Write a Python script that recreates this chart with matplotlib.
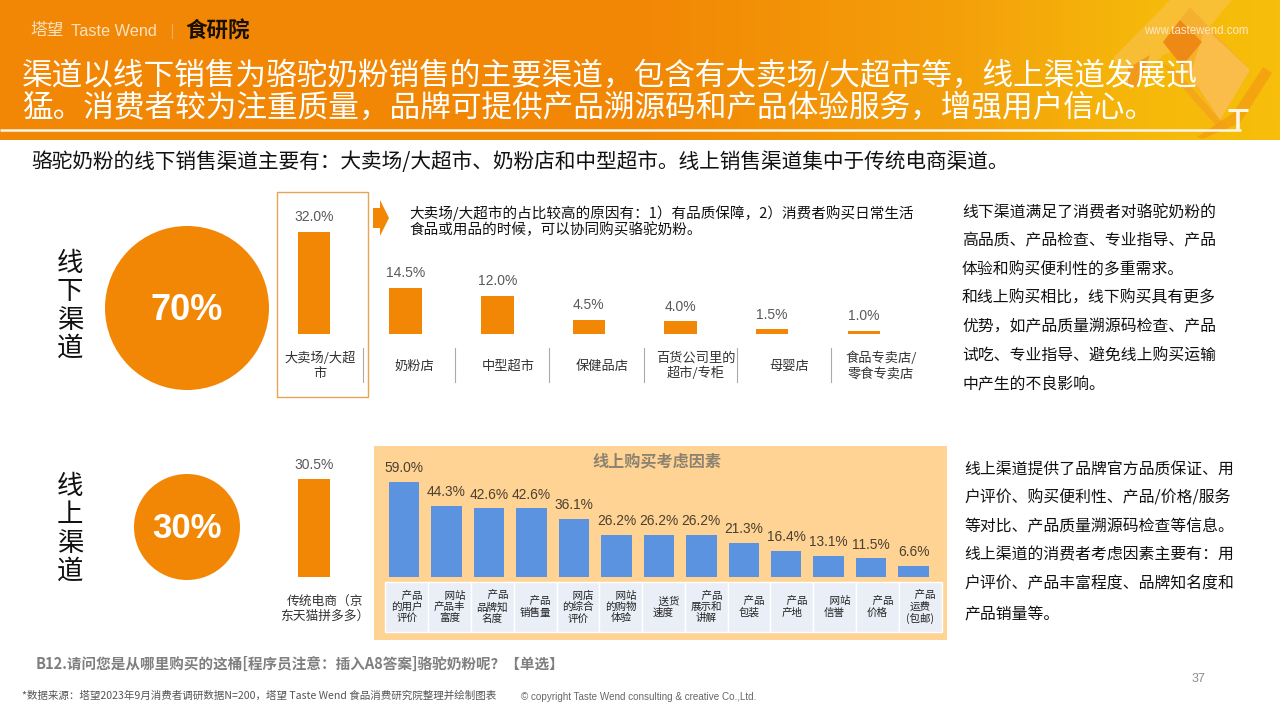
import numpy as np
import matplotlib
matplotlib.use("Agg")
import matplotlib.pyplot as plt
from matplotlib.patches import Circle, Polygon, Rectangle
from matplotlib.colors import LinearSegmentedColormap

CJK = ['Noto Sans CJK SC', 'DejaVu Sans']
LAT = ['Liberation Sans', 'Noto Sans CJK SC', 'DejaVu Sans']
plt.rcParams['font.family'] = CJK

ORANGE = '#F28705'
BLUE = '#5B93E1'

offline_cats = ['大卖场/大超\n市', '奶粉店', '中型超市', '保健品店', '百货公司里的\n超市/专柜', '母婴店', '食品专卖店/\n零食专卖店']
offline_vals = [32.0, 14.5, 12.0, 4.5, 4.0, 1.5, 1.0]
online_cats = ['传统电商（京\n东天猫拼多多）']
online_vals = [30.5]
factor_cats = ['\u3000产品\n的用户\n评价', '\u3000网站\n产品丰\n富度', '\u3000产品\n品牌知\n名度', '\u3000产品\n销售量',
               '\u3000网店\n的综合\n评价', '\u3000网站\n的购物\n体验', '\u3000送货\n速度', '\u3000产品\n展示和\n讲解',
               '\u3000产品\n包装', '\u3000产品\n产地', '\u3000网站\n信誉', '\u3000产品\n价格', '\u3000产品\n运费\n(包邮)']
factor_vals = [59.0, 44.3, 42.6, 42.6, 36.1, 26.2, 26.2, 26.2, 21.3, 16.4, 13.1, 11.5, 6.6]

title_lines = ['渠道以线下销售为骆驼奶粉销售的主要渠道，包含有大卖场/大超市等，线上渠道发展迅',
               '猛。消费者较为注重质量，品牌可提供产品溯源码和产品体验服务，增强用户信心。']
subtitle = '骆驼奶粉的线下销售渠道主要有：大卖场/大超市、奶粉店和中型超市。线上销售渠道集中于传统电商渠道。'
note_lines = ['大卖场/大超市的占比较高的原因有：1）有品质保障，2）消费者购买日常生活',
              '食品或用品的时候，可以协同购买骆驼奶粉。']
right_top = ['线下渠道满足了消费者对骆驼奶粉的', '高品质、产品检查、专业指导、产品', '体验和购买便利性的多重需求。',
             '和线上购买相比，线下购买具有更多', '优势，如产品质量溯源码检查、产品', '试吃、专业指导、避免线上购买运输',
             '中产生的不良影响。']
right_bot = ['线上渠道提供了品牌官方品质保证、用', '户评价、购买便利性、产品/价格/服务', '等对比、产品质量溯源码检查等信息。',
             '线上渠道的消费者考虑因素主要有：用', '户评价、产品丰富程度、品牌知名度和', '产品销量等。']

W, H = 1280, 720
fig = plt.figure(figsize=(12.8, 7.2), dpi=100, facecolor='white')
bg = fig.add_axes([0, 0, 1, 1])
bg.set_xlim(0, W); bg.set_ylim(H, 0); bg.axis('off')

def px_axes(left, right, top, bottom):
    ax = fig.add_axes([left / W, 1 - bottom / H, (right - left) / W, (bottom - top) / H])
    ax.patch.set_alpha(0)
    ax.axis('off')
    return ax

# header gradient
cmap = LinearSegmentedColormap.from_list('hdr', [(0, '#F28705'), (0.5, '#F28705'), (0.75, '#F4A00A'),
                                                 (0.9, '#F6B90A'), (1, '#F7BE0A')])
bg.imshow(np.linspace(0, 1, 512)[None, :], extent=(0, W, 140, 0), cmap=cmap, aspect='auto', zorder=0)
bg.set_xlim(0, W); bg.set_ylim(H, 0)
for pts, col, a in [
    ([(1113, 58), (1170, 0), (1232, 0), (1196, 43), (1163, 55), (1130, 90)], '#FBC76A', .45),
    ([(1128, 68), (1150, 55), (1138, 87), (1128, 87)], '#EE8A10', .7),
    ([(1163, 42), (1190, 7), (1250, 70), (1220, 120)], '#F6AE30', .85),
    ([(1205, 28), (1250, 70), (1220, 120), (1190, 75)], '#FBC050', .85),
    ([(1163, 42), (1180, 20), (1202, 42), (1182, 66)], '#EE8010', .8),
    ([(1160, 62), (1178, 72), (1222, 122), (1218, 128)], '#F4A020', .7),
    ([(1197, 137), (1233, 113), (1263, 67), (1272, 73), (1240, 123), (1203, 139)], '#F39A12', .7),
]:
    bg.add_patch(Polygon(pts, closed=True, fc=col, ec='none', zorder=1, alpha=a))
bg.plot([0, 1241], [130, 130], color='#FFF6E6', lw=1.8, zorder=2, solid_capstyle='butt')
bg.plot([1238, 1238], [110, 130], color='#FFF6E6', lw=2.6, zorder=2, solid_capstyle='butt')
bg.plot([1228, 1248], [110, 110], color='#FFF6E6', lw=2.2, zorder=2, solid_capstyle='butt')

bg.text(30, 31, '塔望', color='#FBE3C0', fontsize=12, va='center', ha='left')
bg.text(71, 31, 'Taste Wend', color='#FBE3C0', fontsize=11.7, va='center', ha='left', family=LAT)
bg.plot([172, 172], [24, 38], color='#E8B070', lw=.8)
bg.text(185, 31, '食研院', color='#1A1000', fontsize=15.5, va='center', ha='left', fontweight='bold')
bg.text(1196, 31, 'www.tastewend.com', color='#FCE8C8', fontsize=8.3, va='center', ha='center', family=LAT, zorder=3)
bg.text(22, 76, title_lines[0], color='white', fontsize=22.1, va='center', ha='left', zorder=3)
bg.text(22, 108, title_lines[1], color='white', fontsize=22.1, va='center', ha='left', zorder=3)
bg.text(31, 162, subtitle, color='#111111', fontsize=14.9, va='center', ha='left')

# channel labels & circles
for x, y, s in [(70, 306, '线\n下\n渠\n道'), (70, 529, '线\n上\n渠\n道')]:
    bg.text(x, y, s, fontsize=19, color='#111111', ha='center', va='center', linespacing=1.05)
for (cx, cy, r, s, fs) in [(187, 308, 82, '70%', 26), (187, 527, 53, '30%', 25)]:
    bg.add_patch(Circle((cx, cy), r, fc=ORANGE, ec='none'))
    bg.text(cx, cy + 2, s, color='white', fontsize=fs, fontweight='bold', ha='center', va='center', family=LAT)

# highlight box, arrow
bg.add_patch(Rectangle((277, 192), 91, 205, fc='none', ec='#E8A455', lw=1))
bg.add_patch(Polygon([(373, 208), (380, 208), (380, 200), (389, 218), (380, 236), (380, 228), (373, 228)], fc=ORANGE, ec='none'))
for i, s in enumerate(note_lines):
    bg.text(409, 213 + i * 17, s, fontsize=10.5, color='#111111', va='center', ha='left')

# offline chart
ax1 = px_axes(268.2, 909.6, 190, 334)
ax1.set_xlim(-.5, 6.5); ax1.set_ylim(0, 144 / 3.19)
x1 = np.arange(len(offline_vals))
ax1.bar(x1, offline_vals, width=0.355, color=ORANGE)
for x, v in zip(x1, offline_vals):
    ax1.annotate(f'{v:.1f}%', (x, v), xytext=(0, 10.5), textcoords='offset points', ha='center', va='center',
                 fontsize=10, color='#595959', family=LAT)
label_dx = [6, 9, 11, 13, 15, 17, 17]
for x, s, dx in zip(x1, offline_cats, label_dx):
    ax1.annotate(s, (x, 0), xytext=(dx * .72, -23), textcoords='offset points', ha='center', va='center',
                 fontsize=9.5, color='#333333', linespacing=1.2)
for sx in [362.5, 455, 549, 643.5, 737, 830.5]:
    bg.plot([sx, sx], [348, 382], color='#AAAAAA', lw=.8)

# online single bar
ax2 = px_axes(268.2, 360, 450, 577)
ax2.set_xlim(-.5, .5); ax2.set_ylim(0, 127 / 3.21)
ax2.bar([0], online_vals, width=32 / 91.8, color=ORANGE)
ax2.annotate(f'{online_vals[0]:.1f}%', (0, online_vals[0]), xytext=(0, 10), textcoords='offset points',
             ha='center', va='center', fontsize=10, color='#595959', family=LAT)
ax2.annotate(online_cats[0], (0, 0), xytext=(7.5, -23), textcoords='offset points', ha='center', va='center',
             fontsize=9.2, color='#333333', linespacing=1.25)

# factor panel
bg.add_patch(Rectangle((374, 446), 573, 194, fc='#FFD394', ec='none'))
bg.text(657, 461, '线上购买考虑因素', fontsize=11.6, fontweight='bold', color='#8C8270', ha='center', va='center')
cw = (941.6 - 385.4) / 13
ax3 = px_axes(382.8, 934.9, 450, 577)
ax3.set_xlim(-.5, 12.5); ax3.set_ylim(0, 127 / 1.61)
x3 = np.arange(len(factor_vals))
ax3.bar(x3, factor_vals, width=30.5 / 42.5, color=BLUE)
for x, v in zip(x3, factor_vals):
    ax3.annotate(f'{v:.1f}%', (x, v), xytext=(0, 10), textcoords='offset points', ha='center', va='center',
                 fontsize=9.9, color='#4A4030', family=LAT)
    bg.add_patch(Rectangle((385.4 + x * cw, 582), cw, 50, fc='#E9EEF7', ec='white', lw=1))
    bg.text(385.4 + (x + .5) * cw, 607, factor_cats[x], fontsize=7.6, color='#222222', ha='center', va='center',
            linespacing=1.17)

# right columns
for s, y in zip(right_top, [212, 241, 270, 298, 327, 356, 385]):
    bg.text(962, y, s, fontsize=11.4, color='#111111', va='center', ha='left')
for s, y in zip(right_bot, [470, 498, 527, 555, 584, 614]):
    bg.text(964, y, s, fontsize=11.4, color='#111111', va='center', ha='left')

# footer
bg.text(36, 664, 'B12.请问您是从哪里购买的这桶[程序员注意：插入A8答案]骆驼奶粉呢？【单选】', fontsize=10.5, fontweight='bold',
        color='#7F7F7F', va='center', ha='left')
bg.text(22, 696, '*数据来源：塔望2023年9月消费者调研数据N=200，塔望 Taste Wend 食品消费研究院整理并绘制图表', fontsize=7.6,
        color='#555555', va='center', ha='left')
bg.text(521, 697, '© copyright Taste Wend consulting & creative Co.,Ltd.', fontsize=7.1, color='#666666',
        va='center', ha='left', family=LAT)
bg.text(1199, 679, '37', fontsize=9, color='#8C8C8C', va='center', ha='center', family=LAT)

fig.savefig('out.png', dpi=100)
